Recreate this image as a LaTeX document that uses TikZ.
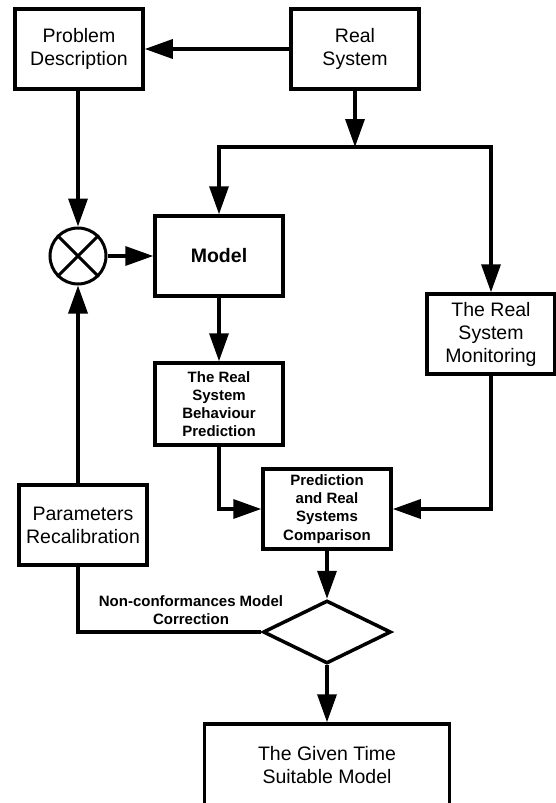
\documentclass[tikz,border=0pt]{standalone}
\usepackage{fontspec}
\setmainfont{Liberation Sans}
\usetikzlibrary{arrows.meta,positioning,shapes.geometric}

\begin{document}
\begin{tikzpicture}[%
    >={Triangle[length=28pt,width=19pt]},
    x=1pt, y=1pt,
    on grid,
    line width=3.5pt,
    block/.style={draw, minimum width=128pt, minimum height=80pt, inner sep=2pt,
      align=center, font=\fontsize{19.5}{23}\selectfont},
    smallblock/.style={block, font=\fontsize{15}{18.2}\selectfont\bfseries},
    mixer/.style={draw, circle, minimum size=56pt, inner sep=0pt, line width=3pt},
    decision/.style={draw, diamond, minimum width=128pt, minimum height=63pt,
      inner sep=0pt, aspect=2}
  ]
    \useasboundingbox (0,0) rectangle (556,-803);

    \node[block] (real) at (355,-49) {Real\\System};
    \node[block] (problem) [left=276pt of real] {Problem\\Description};
    \node[block, font=\fontsize{19.5}{23}\selectfont\bfseries] (model) at (219,-256) {Model};
    \node[mixer] (mix) [left=141pt of model] {};
    \node[block] (monitor) at (491,-334) {The Real\\System\\Monitoring};
    \node[smallblock, minimum height=82pt] (behav) [below=148pt of model] {The Real\\System\\Behaviour\\Prediction};
    \node[smallblock] (compare) at (327,-509) {Prediction\\and Real\\Systems\\Comparison};
    \node[block] (params) at (83,-525) {Parameters\\Recalibration};
    \node[decision] (check) [below=123pt of compare] {};
    \node[block, minimum width=245pt, minimum height=82pt] (given) [below=133pt of check] {The Given Time\\Suitable Model};
    \node[font=\fontsize{15}{17.5}\selectfont\bfseries, align=center] (fix) at (191,-610) {Non-conformances Model\\Correction};

    \coordinate (split) at (355,-147);

    % cross in the mixer
    \draw[line width=3pt] (mix.north west) -- (mix.south east)
                          (mix.north east) -- (mix.south west);

    \path[->] (real)                edge (problem)
              (real)                edge (split)
              (problem.south -| mix) edge (mix)
              (mix)                 edge (model)
              (params.north -| mix) edge (mix)
              (model)               edge (behav)
              (compare)             edge (check)
              (check)               edge (given);

    \draw[->] (split) -| (model);
    \draw[->] (split) -| (monitor);
    \draw[->] (behav) |- (compare);
    \draw[->] (monitor) |- (compare);
    \draw (check.west) -| (params.south -| mix);
  \end{tikzpicture}
\end{document}
